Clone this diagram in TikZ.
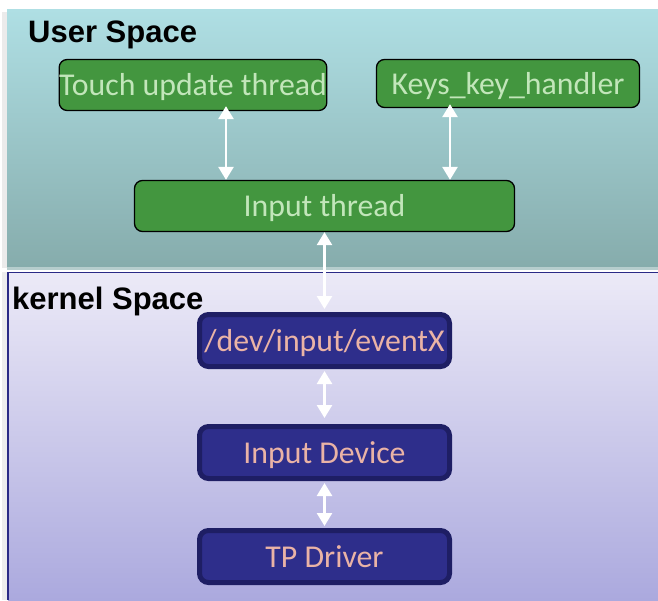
\documentclass[tikz,border=0pt]{standalone}
\usepackage{fontspec}
\setmainfont{Carlito}
\newfontfamily\headfont{Liberation Sans}
\usetikzlibrary{arrows.meta,calc}

\definecolor{userTop}{HTML}{AFDFE4}
\definecolor{userBot}{HTML}{86ACAC}
\definecolor{kernTop}{HTML}{ECEAF7}
\definecolor{kernBot}{HTML}{ABA9DE}
\definecolor{kernEdge}{HTML}{2A2A86}
\definecolor{thrFill}{HTML}{43963F}
\definecolor{thrText}{HTML}{C2E6BA}
\definecolor{drvFill}{HTML}{2E2E8B}
\definecolor{drvEdge}{HTML}{1E1E64}
\definecolor{drvText}{HTML}{EAB3A6}

\tikzset{
  threadbox/.style={draw=black, line width=1.3pt, fill=thrFill, rounded corners=8pt,
    text=thrText, font=\fontsize{31.8}{32}\selectfont, inner sep=0pt,
    text height=21pt, text depth=0pt},
  drvbox/.style={draw=drvEdge, line width=5pt, fill=drvFill, rounded corners=9pt,
    text=drvText, font=\fontsize{31.8}{32}\selectfont, inner sep=0pt,
    text height=21pt, text depth=0pt, minimum width=250pt, minimum height=52pt},
  spacelabel/.style={font=\headfont\bfseries\fontsize{31}{31}\selectfont, text=black,
    anchor=base west, inner sep=0pt},
  link/.style={draw=white, line width=2.6pt,
    {Triangle[width=15pt,length=13pt]}-{Triangle[width=15pt,length=13pt]}}
}

\begin{document}
\begin{tikzpicture}[x=1pt,y=-1pt]
\useasboundingbox (0,0) rectangle (658,600);

% user space panel
\fill[black!8] (2,12) rectangle (8,268);
\shade[top color=userTop, bottom color=userBot] (7,9) rectangle (658,267);
\fill[userBot!60!white] (7,267) rectangle (658,270);

% kernel space panel
\fill[black!7] (2,272) rectangle (8,600);
\shade[top color=kernTop, bottom color=kernBot] (8,272) rectangle (658,600);
\draw[kernEdge, line width=1.5pt] (8,600) -- (8,272.7) -- (658,272.7);

\node[spacelabel] (ulabel) at (28,42) {User Space};
\node[spacelabel] (klabel) at (12,309) {kernel Space};

% user-space threads
\node[threadbox, minimum width=263pt, minimum height=51pt] (touch) at (193,85) {Touch update thread};
\node[threadbox, minimum width=263pt, minimum height=48pt] (keys) at (508,83.5) {Keys\_key\_handler};
\node[threadbox, minimum width=380pt, minimum height=51pt] (inthread) at (324.5,206) {Input thread};

% kernel-space chain
\node[drvbox] (evdev) at (324.5,340.5) {/dev/input/eventX};
\node[drvbox] (indev) at (324.5,452.5) {Input Device};
\node[drvbox] (tpdrv) at (324.5,556.5) {TP Driver};

% connectors
\coordinate (ax1) at (226,0);
\coordinate (ax2) at (450,0);
\draw[link] ([yshift=5pt]touch.south -| ax1) -- (inthread.north -| ax1);
\draw[link] ([yshift=4pt]keys.south -| ax2) -- (inthread.north -| ax2);
\draw[link] (inthread.south) -- ([yshift=3pt]evdev.north);
\draw[link] ([yshift=-2pt]evdev.south) -- ([yshift=6pt]indev.north);
\draw[link] ([yshift=-2pt]indev.south) -- ([yshift=2pt]tpdrv.north);
\end{tikzpicture}
\end{document}
